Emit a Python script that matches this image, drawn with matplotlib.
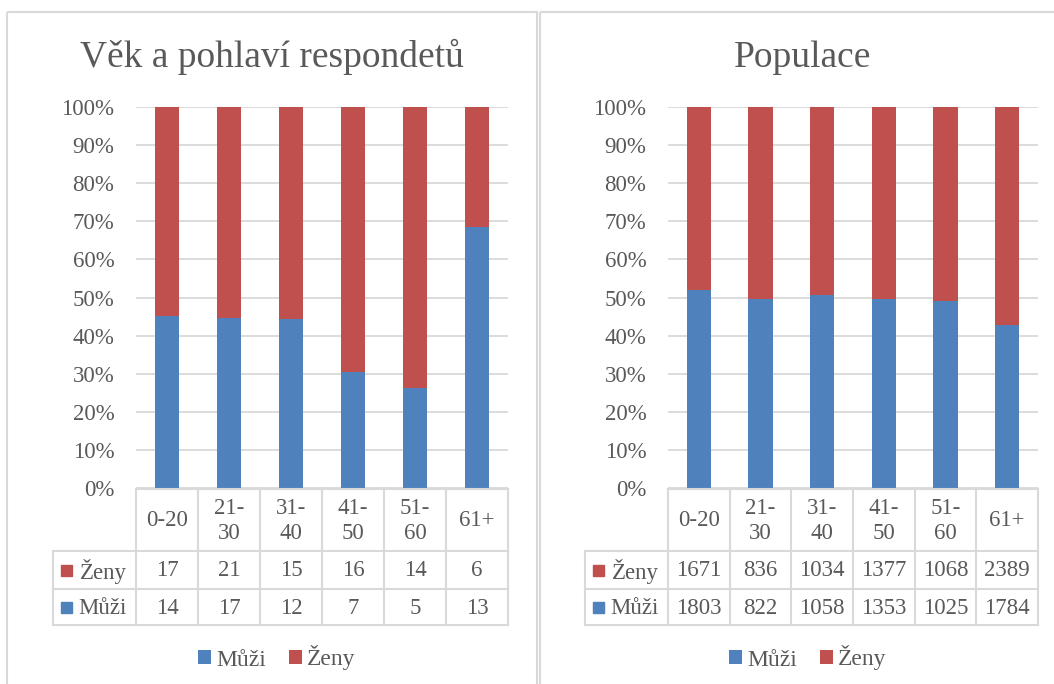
import numpy as np
import matplotlib.pyplot as plt
import matplotlib.transforms as mtransforms
from matplotlib.patches import Rectangle
from matplotlib.lines import Line2D

plt.rcParams['font.family'] = ['Liberation Serif', 'DejaVu Serif']

# data
categories = ['0-20', '21-\n30', '31-\n40', '41-\n50', '51-\n60', '61+']
resp_zeny = [17, 21, 15, 16, 14, 6]
resp_muzi = [14, 17, 12, 7, 5, 13]
pop_zeny = [1671, 836, 1034, 1377, 1068, 2389]
pop_muzi = [1803, 822, 1058, 1353, 1025, 1784]

BLUE = '#4F81BD'
RED = '#C0504D'
TEXT = '#595959'
LINE = '#D9D9D9'

W, H = 1054, 684
fig = plt.figure(figsize=(W / 100, H / 100), dpi=100)
# pixel coordinates, origin top-left
pix = mtransforms.Affine2D().scale(1 / W, -1 / H).translate(0, 1) + fig.transFigure

TOP, BOTTOM = 107, 488
ROWS = [489, 551, 589, 625]


def chart(px0, px1, label_x0, frame_x0, frame_x1, title, muzi, zeny):
    center = (frame_x0 + frame_x1) / 2
    fig.patches.append(Rectangle((frame_x0, 12), frame_x1 - frame_x0, 700, transform=pix,
                                 fill=False, edgecolor=LINE, lw=1.5))
    fig.text(center, 67, title, transform=pix, ha='center', va='baseline',
             fontsize=27, color=TEXT)

    ax = fig.add_axes([px0 / W, 1 - BOTTOM / H, (px1 - px0) / W, (BOTTOM - TOP) / H])
    x = np.arange(len(categories))
    muzi = np.array(muzi, float)
    zeny = np.array(zeny, float)
    total = muzi + zeny
    b1 = ax.bar(x, muzi / total, width=0.39, color=BLUE, zorder=2, label='Můži')
    b2 = ax.bar(x, zeny / total, bottom=muzi / total, width=0.39, color=RED, zorder=2, label='Ženy')
    ax.set_xlim(-0.5, len(categories) - 0.5)
    ax.set_ylim(0, 1)
    ticks = np.arange(0, 11) / 10
    ax.set_yticks(ticks)
    ax.set_yticklabels([f'{int(round(t * 100))}%' for t in ticks])
    ax.yaxis.grid(True, color=LINE, lw=1.3, zorder=0)
    ax.tick_params(axis='y', length=0, pad=15.5, labelsize=16.5, labelcolor=TEXT)
    ax.set_xticks([])
    for s in ax.spines.values():
        s.set_visible(False)

    # data table
    tr = mtransforms.blended_transform_factory(ax.transData, pix)
    lines = []
    lines.append(Line2D([px0, px1], [ROWS[0], ROWS[0]], transform=pix))
    for y in ROWS[1:]:
        lines.append(Line2D([label_x0, px1], [y, y], transform=pix))
    for i in range(len(categories) + 1):
        lines.append(Line2D([i - 0.5, i - 0.5], [ROWS[0], ROWS[-1]], transform=tr))
    lines.append(Line2D([label_x0, label_x0], [ROWS[1], ROWS[-1]], transform=pix))
    for ln in lines:
        ln.set_color(LINE)
        ln.set_linewidth(1.5)
        fig.lines.append(ln)

    for i, cat in enumerate(categories):
        fig.text(i, (ROWS[0] + ROWS[1]) / 2 + 1, cat, transform=tr, ha='center', va='center',
                 fontsize=16.5, color=TEXT, linespacing=1.2)
        fig.text(i, (ROWS[1] + ROWS[2]) / 2 + 1, f'{int(zeny[i])}', transform=tr, ha='center',
                 va='center', fontsize=16.5, color=TEXT)
        fig.text(i, (ROWS[2] + ROWS[3]) / 2 + 1, f'{int(muzi[i])}', transform=tr, ha='center',
                 va='center', fontsize=16.5, color=TEXT)

    for (r0, r1), name, col in [((ROWS[1], ROWS[2]), 'Ženy', RED), ((ROWS[2], ROWS[3]), 'Můži', BLUE)]:
        yc = (r0 + r1) / 2
        fig.patches.append(Rectangle((label_x0 + 8, yc - 5), 11, 11, transform=pix, color=col))
        fig.text(px0 - 9, yc + 1, name, transform=pix, ha='right', va='center',
                 fontsize=16.5, color=TEXT)

    fig.legend(handles=[b1, b2], loc='center', bbox_to_anchor=(center + 5, 658),
               bbox_transform=pix, ncol=2, frameon=False, fontsize=17,
               handlelength=0.55, handleheight=0.55, handletextpad=0.2,
               columnspacing=1.0, labelcolor=TEXT)


chart(136, 508, 53, 7, 537, 'Věk a pohlaví respondetů', resp_muzi, resp_zeny)
chart(668, 1038, 585, 540, 1066, 'Populace', pop_muzi, pop_zeny)

fig.savefig('out.png', dpi=100)
